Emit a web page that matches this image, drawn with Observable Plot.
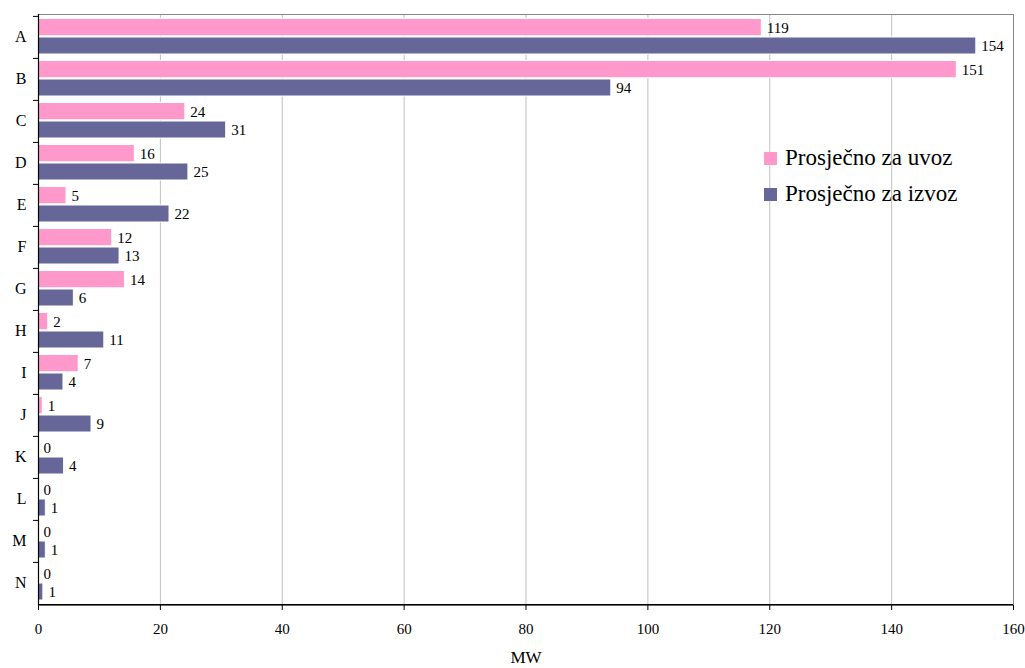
<!DOCTYPE html>
<html>
<head>
<meta charset="utf-8">
<script src="https://cdn.jsdelivr.net/npm/d3@7"></script>
<script src="https://cdn.jsdelivr.net/npm/@observablehq/plot@0.6"></script>
<style>
  body { margin: 0; background: #fff; }
  #wrap { position: relative; width: 1025px; height: 668px; font-family: "Liberation Serif", "Times New Roman", serif; }
  #legend { position: absolute; left: 764px; top: 140px; font-size: 23px; color: #000; }
  #legend .row { display: flex; align-items: center; height: 36px; }
  #legend .sw { width: 13px; height: 13px; margin-right: 8px; }
</style>
</head>
<body>
<div id="wrap"><div id="legend"></div></div>
<script>
const categories = ["A","B","C","D","E","F","G","H","I","J","K","L","M","N"];
const uvoz  = [118.7, 150.7, 24.1, 15.8, 4.6, 12.1, 14.2, 1.6, 6.6, 0.7, 0, 0, 0, 0];
const izvoz = [153.9, 94.0, 30.8, 24.6, 21.5, 13.3, 5.8, 10.8, 4.1, 8.7, 4.2, 1.2, 1.2, 0.8];
const seriesNames = ["Prosječno za uvoz", "Prosječno za izvoz"];
const seriesColors = ["#FF99CC", "#666699"];
const xTicks = [0, 20, 40, 60, 80, 100, 120, 140, 160];
const xLabel = "MW";

const W = 1025, H = 668, mT = 14, mB = 63, mL = 38, mR = 12;
const bw = (H - mT - mB) / categories.length;

const rowsU = categories.map((c, i) => ({cat: c, v: uvoz[i]}));
const rowsI = categories.map((c, i) => ({cat: c, v: izvoz[i]}));
const fmt = d3.format(".0f");

const chart = Plot.plot({
  width: W, height: H,
  marginTop: mT, marginBottom: mB, marginLeft: mL, marginRight: mR,
  style: {fontFamily: "Liberation Serif, Times New Roman, serif", fontSize: "15px", color: "#000", background: "#fff"},
  x: {domain: [0, 160], ticks: xTicks, label: null},
  y: {domain: categories, padding: 0, label: null},
  marks: [
    Plot.gridX(xTicks.slice(1, -1), {stroke: "#c0c0c0", strokeOpacity: 1}),
    Plot.frame({stroke: "#888"}),
    Plot.barX(rowsU, {x: "v", y: "cat", fill: seriesColors[0], stroke: "#fff", strokeWidth: 1, insetTop: 2.5, insetBottom: bw - 20}),
    Plot.barX(rowsI, {x: "v", y: "cat", fill: seriesColors[1], stroke: "#fff", strokeWidth: 1, insetTop: 21, insetBottom: 4}),
    Plot.text(rowsU, {x: "v", y: "cat", text: d => fmt(d.v), dx: 5, dy: -9.5, textAnchor: "start", lineAnchor: "middle", fontSize: 15, fill: "#000"}),
    Plot.text(rowsI, {x: "v", y: "cat", text: d => fmt(d.v), dx: 5, dy: 8.5, textAnchor: "start", lineAnchor: "middle", fontSize: 15, fill: "#000"}),
    Plot.ruleX([0], {stroke: "#000", strokeWidth: 1.2}),
    Plot.ruleY([categories[categories.length - 1]], {x1: 0, x2: 160, dy: bw / 2, stroke: "#000", strokeWidth: 1.2}),
    Plot.axisY({tickSize: 0, tickPadding: 12, fontSize: 16, dy: -1}),
    Plot.axisY({tickSize: 5, text: null, dy: -bw / 2, stroke: "#000"}),
    Plot.axisX(xTicks, {tickSize: 5, tickPadding: 13, fontSize: 15, label: null}),
    Plot.text([xLabel], {frameAnchor: "bottom", dy: 52, fontSize: 17, lineAnchor: "middle", fill: "#000"})
  ]
});
document.getElementById("wrap").prepend(chart);

const legend = document.getElementById("legend");
seriesNames.forEach((n, i) => {
  const row = document.createElement("div");
  row.className = "row";
  const sw = document.createElement("div");
  sw.className = "sw";
  sw.style.background = seriesColors[i];
  const t = document.createElement("span");
  t.textContent = n;
  row.appendChild(sw); row.appendChild(t);
  legend.appendChild(row);
});
</script>
</body>
</html>
